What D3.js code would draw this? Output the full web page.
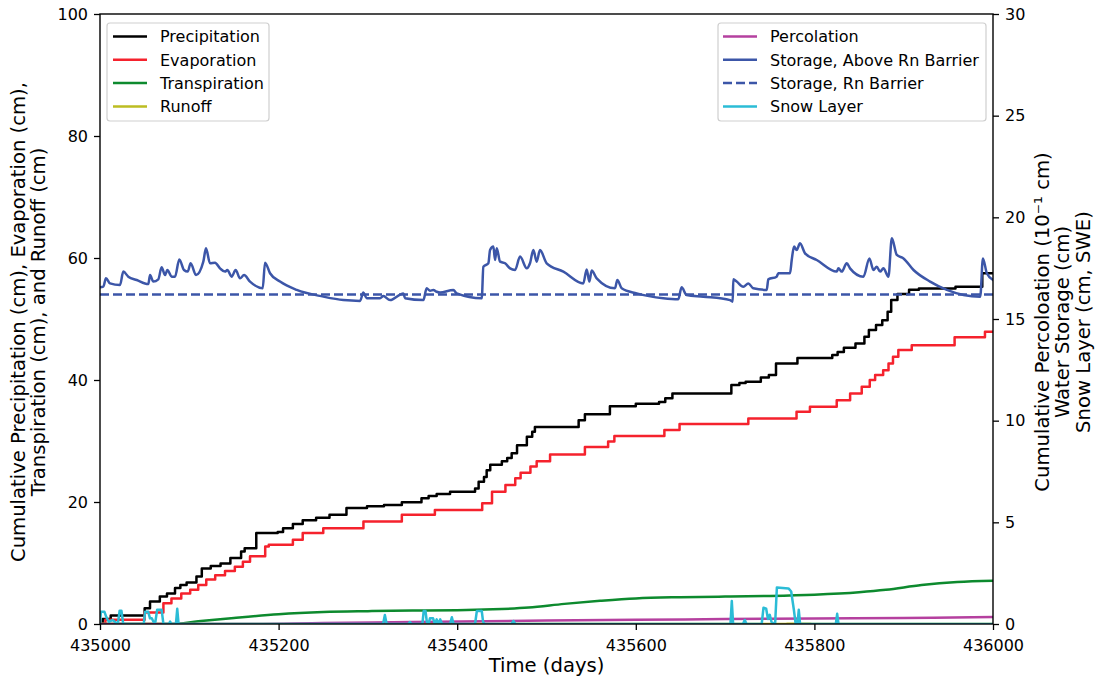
<!DOCTYPE html>
<html>
<head>
<meta charset="utf-8">
<script src="https://cdn.jsdelivr.net/npm/d3@7"></script>
<style>
  html, body { margin: 0; padding: 0; background: #fff; }
  svg { display: block; font-family: "DejaVu Sans", sans-serif; }
</style>
</head>
<body>
<svg id="chart" width="1097" height="679"></svg>
<script>
// Water balance over 1000 days of simulation.
// Days are stored as offsets from START_DAY.
const START_DAY = 435000;

const xTicks = [435000, 435200, 435400, 435600, 435800, 436000];
const leftTicks = [0, 20, 40, 60, 80, 100];
const rightTicks = [0, 5, 10, 15, 20, 25, 30];

// Cumulative precipitation (cm) — step changes [day offset, value]
const precipitation = [
  [0,0],[3,0.8],[12,1.4],[50,2.6],[56,3.7],[67,4.5],[75,5.0],[84,5.9],[90,6.4],[97,6.8],
  [108,7.8],[114,9.1],[124,9.5],[135,9.9],[146,10.8],[158,11.9],[162,12.4],[175,14.9],
  [199,15.1],[205,15.7],[216,16.4],[227,17.0],[242,17.4],[257,17.9],[276,19.0],[299,19.3],
  [318,19.5],[338,19.95],[360,20.6],[368,21.0],[377,21.3],[392,21.7],[420,22.2],[424,23.3],
  [430,24.1],[433,25.2],[437,26.1],[450,26.7],[456,27.2],[461,28.0],[467,29.3],[478,30.7],
  [484,31.5],[487,32.3],[536,33.4],[543,34.4],[571,35.7],[600,36.1],[626,36.4],[633,37.0],
  [641,37.8],[707,39.2],[716,39.5],[723,39.7],[740,40.4],[749,40.8],[757,42.7],[781,43.6],
  [820,44.1],[826,44.6],[833,45.3],[846,46.0],[856,47.1],[861,48.2],[869,49.0],[876,49.8],
  [882,51.2],[886,53.1],[893,54.1],[906,54.8],[917,55.0],[958,55.3],[988,57.5],[1000,57.5]
];

// Cumulative evaporation (cm)
const evaporation = [
  [0,0],[6,0.7],[50,1.9],[71,3.4],[80,4.2],[91,5.0],[101,5.6],[110,6.4],[119,7.3],[129,8.0],
  [140,8.7],[151,9.4],[160,10.2],[168,11.1],[185,12.7],[189,13.0],[216,13.8],[227,14.9],
  [250,15.7],[295,16.8],[338,17.9],[375,18.7],[428,19.8],[439,21.7],[454,22.8],[465,23.9],
  [471,24.8],[482,25.8],[489,26.7],[504,27.8],[543,29.0],[569,29.9],[576,30.8],[632,31.8],
  [649,32.8],[726,33.7],[780,34.8],[795,35.6],[825,36.7],[840,37.8],[853,38.9],[862,40.0],
  [868,40.8],[877,41.6],[883,42.7],[888,43.8],[894,44.9],[909,45.7],[957,47.0],[991,47.9],
  [1000,47.9]
];

// Cumulative transpiration (cm)
const transpiration = [
  [0,0],[80,0],[110,0.45],[150,1.0],[200,1.6],[250,1.95],[300,2.1],[350,2.2],[400,2.25],
  [440,2.4],[480,2.7],[520,3.3],[560,3.8],[600,4.2],[650,4.4],[700,4.5],[750,4.6],
  [800,4.8],[850,5.2],[880,5.6],[920,6.4],[960,6.9],[1000,7.1]
];

// Cumulative runoff (cm)
const runoff = [
  [0,0],[768,0],[770,0.06],[795,0.06],[797,0],[1000,0]
];

// Cumulative percolation (10^-1 cm)
const percolation = [
  [0,0],[160,0],[250,0.05],[350,0.1],[500,0.17],[600,0.21],[700,0.24],[800,0.27],
  [900,0.3],[1000,0.34]
];

// Water storage above the radon barrier (cm)
const storageAbove = [
  [0,16.56],[3.7,16.59],[6.7,17.0],[11.2,16.75],[22.4,16.67],[26.1,17.33],[31.7,17.08],
  [41.1,16.92],[54.1,16.72],[56.0,17.16],[59.7,16.84],[65.3,16.95],[69.0,17.54],[72.8,17.16],
  [75.4,17.41],[80.3,17.08],[84.0,17.08],[88.8,17.93],[94.1,17.41],[98.2,17.33],[101.5,17.74],
  [107.5,17.16],[115.7,17.82],[118.7,18.48],[123.2,17.74],[128.8,17.77],[134.4,17.49],
  [140.0,17.33],[142.6,17.41],[147.4,17.08],[151.9,17.41],[156.8,17.0],[161.3,17.16],
  [168.0,16.84],[182.2,16.51],[184.8,17.77],[190.4,17.25],[201.6,16.84],[220.3,16.43],
  [250.1,16.10],[272.5,15.93],[291.2,15.89],[294.9,16.30],[298.6,16.02],[313.6,16.02],
  [317.3,16.13],[324.8,15.93],[339.7,16.26],[341.6,16.02],[362.1,15.93],[365.8,16.51],
  [369.6,16.39],[373.3,16.43],[377.1,16.34],[380.8,16.30],[395.7,16.43],[399.5,16.26],
  [427.5,16.02],[429.3,17.57],[434.9,17.74],[436.8,18.39],[440.5,18.56],[442.4,17.90],
  [444.3,18.48],[448.0,17.82],[453.6,17.74],[459.2,17.49],[464.8,17.41],[470.4,18.07],
  [477.9,17.49],[481.5,17.74],[485.3,18.39],[489.0,17.82],[492.7,18.39],[500.2,17.74],
  [518.9,17.33],[541.2,16.75],[545.0,17.44],[548.0,16.84],[550.6,17.38],[556.2,17.0],
  [576.7,16.51],[579.3,16.92],[584.2,16.51],[601.0,16.26],[630.8,16.02],[647.6,15.97],
  [651.3,16.56],[656.9,16.18],[675.6,16.10],[705.5,15.93],[708.5,15.85],[709.2,16.95],
  [713.0,16.84],[720.4,16.59],[726.0,16.75],[731.6,16.51],[746.6,16.43],[748.4,16.95],
  [757.7,17.08],[759.6,17.25],[772.7,17.25],[774.6,17.90],[777.2,18.56],[780.2,18.39],
  [783.9,18.72],[789.5,18.23],[802.6,17.90],[825.0,17.33],[826.9,17.49],[830.6,17.33],
  [836.2,17.74],[839.9,17.49],[854.9,17.08],[861.6,17.98],[866.1,17.41],[869.8,17.57],
  [873.6,17.33],[877.3,17.49],[882.9,17.08],[886.7,18.97],[892.3,18.15],[899.8,17.98],
  [911.0,17.41],[929.6,16.84],[948.3,16.43],[967.0,16.18],[985.7,16.10],[988.7,17.98],
  [993.1,17.25],[1000,16.92]
];

// Water storage in the radon barrier (cm)
const storageBarrier = [
  [0,16.2],[1000,16.2]
];

// Snow layer (cm, SWE)
const snowLayer = [
  [0,0],[1,0.6],[5,0.6],[7,0.35],[10,0.1],[14,0.2],[17,0.1],[20,0],[22,0.65],[24,0.65],[26,0],
  [49,0],[50.5,0.6],[54,0.6],[56,0.28],[58,0.28],[60,0.1],[62,0.1],[64,0.7],[69,0.7],[71,0],
  [77,0],[78.5,0.12],[80,0],[85,0],[86.5,0.75],[88,0],[317,0],[319,0.44],[321,0],[345,0],
  [347,0.1],[349,0],[361,0],[362.5,0.64],[364.5,0.64],[366,0.1],[368,0],[369.5,0.28],
  [373,0.28],[375,0],[377,0.23],[379,0],[381,0.23],[383,0],[392,0],[394,0.33],[396,0],
  [420,0],[422,0.64],[427.5,0.64],[429,0.1],[431,0],[461,0],[463,0.15],[465,0],[706,0],
  [707.5,1.13],[709,0],[720,0],[722,0.2],[724,0],[741,0],[743,0.8],[746,0.75],[748,0.25],
  [750,0.45],[752,0.1],[756,0],[758,1.8],[771,1.75],[774,1.6],[777,0.7],[779,0],[781,0],
  [782.5,0.7],[784,0],[824,0],[825.5,0.5],[827,0],[1000,0]
];

const leftSeries = [
  { name: "Precipitation", data: precipitation, color: "#000000", curve: d3.curveStepAfter },
  { name: "Evaporation", data: evaporation, color: "#f5222d", curve: d3.curveStepAfter },
  { name: "Transpiration", data: transpiration, color: "#0d8a2e", curve: d3.curveMonotoneX },
  { name: "Runoff", data: runoff, color: "#bcbd22", curve: d3.curveLinear }
];
const rightSeries = [
  { name: "Percolation", data: percolation, color: "#b5409f", curve: d3.curveMonotoneX },
  { name: "Storage, Above Rn Barrier", data: storageAbove, color: "#3c56a8", curve: d3.curveMonotoneX },
  { name: "Storage, Rn Barrier", data: storageBarrier, color: "#3c56a8", curve: d3.curveLinear, dash: "9,4" },
  { name: "Snow Layer", data: snowLayer, color: "#2bbcd6", curve: d3.curveLinear }
];

const svg = d3.select("#chart");
const plot = { left: 100, right: 993, top: 14, bottom: 624 };
const TICK_FS = 16;
const LEGEND_FS = 16;
const LABEL_FS = 19.6;
const LW = 2.5;

const x = d3.scaleLinear().domain([435000, 436000]).range([plot.left, plot.right]);
const yL = d3.scaleLinear().domain([0, 100]).range([plot.bottom, plot.top]);
const yR = d3.scaleLinear().domain([0, 30]).range([plot.bottom, plot.top]);

svg.append("defs").append("clipPath").attr("id", "plotclip")
  .append("rect")
  .attr("x", plot.left).attr("y", plot.top)
  .attr("width", plot.right - plot.left).attr("height", plot.bottom - plot.top);

const lineGroup = svg.append("g").attr("clip-path", "url(#plotclip)");

function drawSeries(s, yScale) {
  const gen = d3.line()
    .x(d => x(START_DAY + d[0]))
    .y(d => yScale(d[1]))
    .curve(s.curve);
  lineGroup.append("path")
    .datum(s.data)
    .attr("fill", "none")
    .attr("stroke", s.color)
    .attr("stroke-width", LW)
    .attr("stroke-linejoin", "round")
    .attr("stroke-linecap", s.dash ? "butt" : "square")
    .attr("stroke-dasharray", s.dash || null)
    .attr("d", gen);
}
leftSeries.forEach(s => drawSeries(s, yL));
rightSeries.forEach(s => drawSeries(s, yR));

// Axes
function styleAxis(g) {
  g.select(".domain").remove();
  g.selectAll(".tick line").attr("stroke", "#000").attr("stroke-width", 1.3);
  g.selectAll(".tick text").attr("fill", "#000").style("font-size", TICK_FS + "px")
    .style("font-family", "DejaVu Sans, sans-serif");
}
svg.append("g")
  .attr("transform", `translate(0,${plot.bottom})`)
  .call(d3.axisBottom(x).tickValues(xTicks).tickFormat(d3.format("d")).tickSize(6).tickPadding(10))
  .call(styleAxis);
svg.append("g")
  .attr("transform", `translate(${plot.left},0)`)
  .call(d3.axisLeft(yL).tickValues(leftTicks).tickFormat(d3.format("d")).tickSize(6).tickPadding(6))
  .call(styleAxis);
svg.append("g")
  .attr("transform", `translate(${plot.right},0)`)
  .call(d3.axisRight(yR).tickValues(rightTicks).tickFormat(d3.format("d")).tickSize(6).tickPadding(6))
  .call(styleAxis);

// Frame
svg.append("rect")
  .attr("x", plot.left).attr("y", plot.top)
  .attr("width", plot.right - plot.left).attr("height", plot.bottom - plot.top)
  .attr("fill", "none").attr("stroke", "#000").attr("stroke-width", 1.4);

// Axis labels
svg.append("text")
  .attr("x", (plot.left + plot.right) / 2).attr("y", 672)
  .attr("text-anchor", "middle").style("font-size", LABEL_FS + "px")
  .text("Time (days)");

const labelMidY = 322;
function rotatedLabel(cx, lines, spacing) {
  const t = svg.append("text")
    .attr("transform", `translate(${cx},${labelMidY}) rotate(-90)`)
    .attr("text-anchor", "middle").style("font-size", LABEL_FS + "px");
  lines.forEach((ln, i) => {
    t.append("tspan").attr("x", 0)
      .attr("y", (i - (lines.length - 1) / 2) * spacing + LABEL_FS * 0.36)
      .text(ln);
  });
}
rotatedLabel(28, ["Cumulative Precipitation (cm), Evaporation (cm),",
                  "Transpiration (cm), and Runoff (cm)"], 20.5);
rotatedLabel(1062, ["Cumulative Percoloation (10\u207B\u00B9 cm)",
                    "Water Storage (cm)",
                    "Snow Layer (cm, SWE)"], 20.5);

// Legends
function legend(series, box, handleX, textX) {
  svg.append("rect")
    .attr("x", box.x).attr("y", box.y).attr("width", box.w).attr("height", box.h)
    .attr("rx", 3).attr("fill", "#fff").attr("fill-opacity", 0.8)
    .attr("stroke", "#cfcfcf").attr("stroke-width", 1.2);
  series.forEach((s, i) => {
    const cy = box.y + 13.5 + i * 23.3;
    svg.append("line")
      .attr("x1", handleX).attr("x2", handleX + 34)
      .attr("y1", cy).attr("y2", cy)
      .attr("stroke", s.color).attr("stroke-width", LW)
      .attr("stroke-dasharray", s.dash || null);
    svg.append("text")
      .attr("x", textX).attr("y", cy + LEGEND_FS * 0.36)
      .style("font-size", LEGEND_FS + "px")
      .text(s.name);
  });
}
legend(leftSeries, { x: 107, y: 23, w: 162, h: 98 }, 113, 160);
legend(rightSeries, { x: 718, y: 23, w: 268, h: 98 }, 723, 770);
</script>
</body>
</html>
